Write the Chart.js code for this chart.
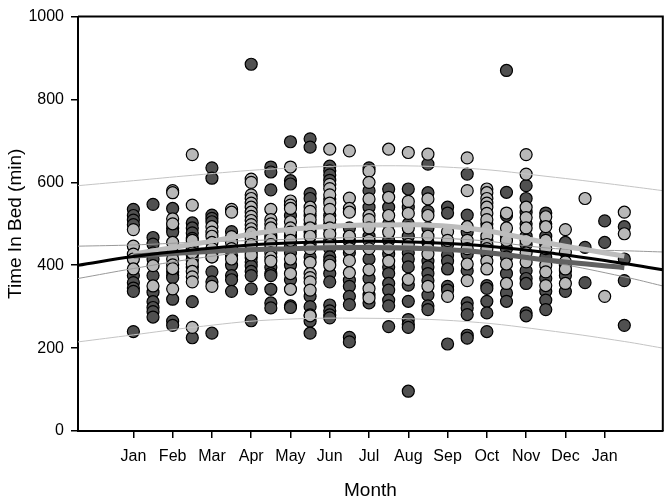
<!DOCTYPE html>
<html>
<head>
<meta charset="utf-8">
<script src="https://cdn.jsdelivr.net/npm/chart.js@4"></script>
<style>
  html, body { margin: 0; padding: 0; background: #fff; }
  #wrap { width: 670px; height: 499px; }
</style>
</head>
<body>
<div id="wrap"><canvas id="bedChart"></canvas></div>
<script>
// month ticks on the x axis (1 = Jan)
const monthTicks = [1, 2, 3, 4, 5, 6, 7, 8, 9, 10, 11, 12, 13];
const monthLabels = ['Jan', 'Feb', 'Mar', 'Apr', 'May', 'Jun', 'Jul', 'Aug', 'Sep', 'Oct', 'Nov', 'Dec', 'Jan'];
const yTicks = [0, 200, 400, 600, 800, 1000];

// half-month columns of observations
const columnX = [1, 1.5, 2, 2.5, 3, 3.5, 4, 4.5, 5, 5.5, 6, 6.5, 7, 7.5, 8, 8.5, 9, 9.5, 10, 10.5, 11, 11.5, 12, 12.5, 13, 13.5];

const darkCols = [
  [535, 520, 509, 498, 375, 358, 345, 337, 240],
  [547, 467, 451, 430, 415, 375, 335, 312, 298, 288, 275],
  [537, 500, 489, 480, 384, 375, 370, 318, 265, 255],
  [502, 490, 478, 465, 450, 440, 425, 412, 395, 312, 225],
  [635, 610, 521, 513, 505, 430, 420, 384, 360, 236],
  [481, 465, 423, 400, 375, 365, 337],
  [885, 470, 455, 440, 430, 418, 408, 398, 385, 375, 343, 266],
  [637, 625, 582, 480, 470, 455, 440, 395, 380, 375, 342, 309, 297],
  [698, 604, 596, 520, 470, 445, 430, 400, 365, 302, 298],
  [705, 685, 573, 561, 520, 500, 480, 450, 420, 325, 300, 280, 265, 236],
  [639, 628, 618, 605, 560, 520, 500, 460, 440, 420, 410, 380, 360, 304, 290, 280, 273],
  [490, 458, 430, 364, 349, 325, 305, 226, 215],
  [635, 580, 540, 500, 470, 415, 368, 328, 309],
  [584, 540, 500, 460, 427, 396, 380, 356, 340, 316, 302, 252],
  [584, 540, 500, 470, 430, 415, 396, 352, 313, 269, 257, 250, 96],
  [644, 575, 530, 490, 455, 410, 396, 380, 363, 328, 302, 293],
  [540, 526, 450, 425, 410, 391, 349, 340, 210],
  [620, 521, 480, 427, 387, 309, 297, 281, 231, 224],
  [500, 460, 427, 351, 344, 313, 285, 240],
  [870, 576, 520, 470, 440, 420, 380, 333, 313],
  [592, 561, 528, 500, 470, 450, 387, 368, 356, 285, 278],
  [526, 500, 470, 450, 420, 368, 337, 316, 293],
  [455, 400, 387, 375, 337],
  [443, 358],
  [507, 455],
  [493, 415, 363, 255]
];

const lightCols = [
  [486, 446, 427, 415, 391],
  [399, 350],
  [580, 575, 512, 500, 455, 430, 415, 401, 392, 343],
  [667, 545, 460, 430, 403, 385, 372, 360, 250],
  [493, 480, 470, 455, 440, 420, 349],
  [535, 528, 469, 455, 440, 415],
  [608, 600, 570, 561, 550, 540, 528, 518, 508, 498, 488, 478, 465, 450, 425],
  [535, 510, 500, 490, 463, 450, 430, 420, 410],
  [637, 555, 545, 537, 505, 490, 480, 460, 415, 380, 342],
  [540, 530, 510, 490, 470, 440, 407, 380, 370, 360, 340, 278],
  [680, 595, 585, 570, 550, 535, 510, 490, 475, 450, 400],
  [676, 562, 537, 528, 470, 440, 411, 382],
  [627, 600, 560, 520, 510, 490, 460, 440, 389, 344, 321],
  [680, 564, 520, 480, 440, 410],
  [672, 554, 525, 490, 450, 366],
  [668, 560, 520, 470, 440, 427, 349],
  [481, 460, 325],
  [659, 580, 493, 460, 440, 403, 363],
  [584, 575, 561, 550, 540, 525, 510, 490, 470, 450, 440, 410, 391],
  [526, 490, 460, 403, 356],
  [667, 620, 540, 515, 490, 460, 430, 408],
  [517, 493, 460, 440, 400, 384, 351],
  [486, 432, 408, 391, 356],
  [561],
  [325],
  [528, 476]
];

// overall fit with confidence and prediction bands
const fitX = [-0.41, 1, 2.5, 4.5, 7, 9.5, 11.75, 13.5, 14.48];
const fitAll = [400, 421, 437, 452, 458, 450, 428, 404, 389];
const ciUpper = [446, 449, 455, 461, 467, 462, 440, 435, 432];
const ciLower = [368, 392, 415, 438, 448, 437, 405, 372, 350];
const piUpper = [592, 604, 617, 632, 640, 634, 612, 592, 580];
const piLower = [215, 232, 250, 268, 272, 264, 240, 216, 200];

// per-group fits
const groupX = [1, 2.67, 4.64, 6.96, 9.48, 11.76, 13.5];
const lightFit = [427, 453, 483, 497, 490, 450, 422];
const darkFit = [422, 432, 439, 443, 435, 410, 394];

const toPoints = (cols) => {
  const pts = [];
  cols.forEach((vals, i) => vals.forEach(v => pts.push({ x: columnX[i], y: v })));
  return pts;
};
const toLine = (xs, ys) => xs.map((x, i) => ({ x: x, y: ys[i] }));

const lineSet = (data, color, width, order) => ({
  type: 'line',
  data: data,
  borderColor: color,
  borderWidth: width,
  pointRadius: 0,
  tension: 0.4,
  fill: false,
  order: order
});

// top and right edges of the frame
const framePlugin = {
  id: 'frame',
  afterDraw(chart) {
    const { ctx, chartArea: a } = chart;
    ctx.save();
    ctx.strokeStyle = '#000';
    ctx.lineWidth = 2;
    ctx.beginPath();
    ctx.moveTo(a.left, a.top);
    ctx.lineTo(a.right, a.top);
    ctx.lineTo(a.right, a.bottom);
    ctx.stroke();
    ctx.restore();
  }
};

const font = 'Liberation Sans, Arial, sans-serif';

new Chart(document.getElementById('bedChart'), {
  type: 'scatter',
  data: {
    datasets: [
      lineSet(toLine(fitX, piUpper), '#c4c4c4', 1, 3),
      lineSet(toLine(fitX, piLower), '#c4c4c4', 1, 3),
      lineSet(toLine(fitX, ciUpper), '#999999', 1, 2),
      lineSet(toLine(fitX, ciLower), '#999999', 1, 2),
      lineSet(toLine(groupX, darkFit), '#606060', 5, 1),
      lineSet(toLine(groupX, lightFit), '#bcbcbc', 5, 1),
      lineSet(toLine(fitX, fitAll), '#000000', 3, 0),
      {
        data: toPoints(darkCols),
        backgroundColor: '#505050',
        borderColor: '#000000',
        borderWidth: 1.2,
        pointRadius: 6,
        order: 6
      },
      {
        data: toPoints(lightCols),
        backgroundColor: '#b8b8b8',
        borderColor: '#000000',
        borderWidth: 1.2,
        pointRadius: 6,
        order: 5
      }
    ]
  },
  options: {
    responsive: true,
    maintainAspectRatio: false,
    animation: false,
    layout: { padding: { left: 0, top: 7, right: 2, bottom: 0 } },
    plugins: {
      legend: { display: false },
      tooltip: { enabled: false }
    },
    scales: {
      x: {
        type: 'linear',
        min: -0.41,
        max: 14.48,
        afterBuildTicks: (axis) => { axis.ticks = monthTicks.map(v => ({ value: v })); },
        afterFit: (scale) => { scale.height = 68; },
        ticks: {
          callback: (value, index) => monthLabels[index],
          color: '#000',
          font: { family: font, size: 16 },
          padding: 9,
          maxRotation: 0,
          autoSkip: false
        },
        grid: { drawOnChartArea: false, drawTicks: true, tickLength: 7, color: '#000', lineWidth: 1.5 },
        border: { display: true, color: '#000', width: 2 },
        title: {
          display: true,
          text: 'Month',
          color: '#000',
          font: { family: font, size: 19, lineHeight: 1 },
          padding: { top: 0, bottom: -1 }
        }
      },
      y: {
        min: 0,
        max: 1000,
        afterBuildTicks: (axis) => { axis.ticks = yTicks.map(v => ({ value: v })); },
        afterFit: (scale) => { scale.width = 78; },
        ticks: {
          callback: (value) => String(value),
          color: '#000',
          font: { family: font, size: 16 },
          padding: 7
        },
        grid: { drawOnChartArea: false, drawTicks: true, tickLength: 7, color: '#000', lineWidth: 1.5 },
        border: { display: true, color: '#000', width: 2 },
        title: {
          display: true,
          text: 'Time In Bed (min)',
          color: '#000',
          font: { family: font, size: 19, lineHeight: 1 },
          padding: { top: 6, bottom: 0 }
        }
      }
    }
  },
  plugins: [framePlugin]
});
</script>
</body>
</html>
